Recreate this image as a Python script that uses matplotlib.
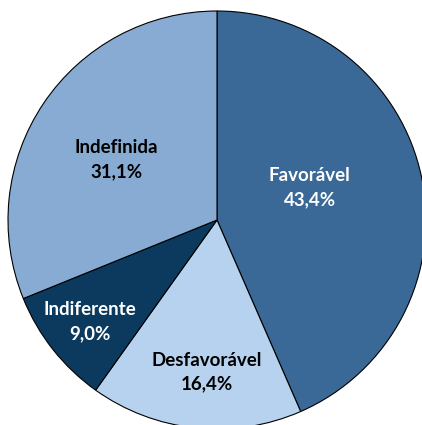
import numpy as np
import matplotlib
matplotlib.use("Agg")
import matplotlib.pyplot as plt

# Opinion shares (%), drawn clockwise from 12 o'clock
categories = ["Favorável", "Desfavorável", "Indiferente", "Indefinida"]
values = [43.4, 16.4, 9.0, 31.1]
value_labels = ["43,4%", "16,4%", "9,0%", "31,1%"]

colors = ["#3a6897", "#b7d2ee", "#0c3a5e", "#87abd2"]
text_colors = ["white", "black", "white", "black"]
label_radius = [0.47, 0.73, 0.78, 0.56]
label_angle_shift = [7.5, 2.0, 0.3, 3.0]

W, H = 422, 425
fig = plt.figure(figsize=(W / 100, H / 100), dpi=100)
cx, cy, r = 217, H - 220, 209
ax = fig.add_axes([(cx - r) / W, (cy - r) / H, 2 * r / W, 2 * r / H])

wedges, _ = ax.pie(values, colors=colors, startangle=90, counterclock=False,
                   radius=1.0,
                   wedgeprops=dict(edgecolor="black", linewidth=0.8))
ax.set_xlim(-1, 1)
ax.set_ylim(-1, 1)
ax.set_aspect("equal")
ax.axis("off")

for w, name, lab, tc, rr, sh in zip(wedges, categories, value_labels,
                                     text_colors, label_radius, label_angle_shift):
    mid = np.deg2rad((w.theta1 + w.theta2) / 2 + sh)
    x, y = rr * np.cos(mid), rr * np.sin(mid)
    ax.text(x, y, f"{name}\n{lab}", ha="center", va="center", color=tc,
            fontsize=13.5, fontweight="bold", family=["Lato", "DejaVu Sans"],
            linespacing=1.5)

fig.savefig("out.png", dpi=100)
